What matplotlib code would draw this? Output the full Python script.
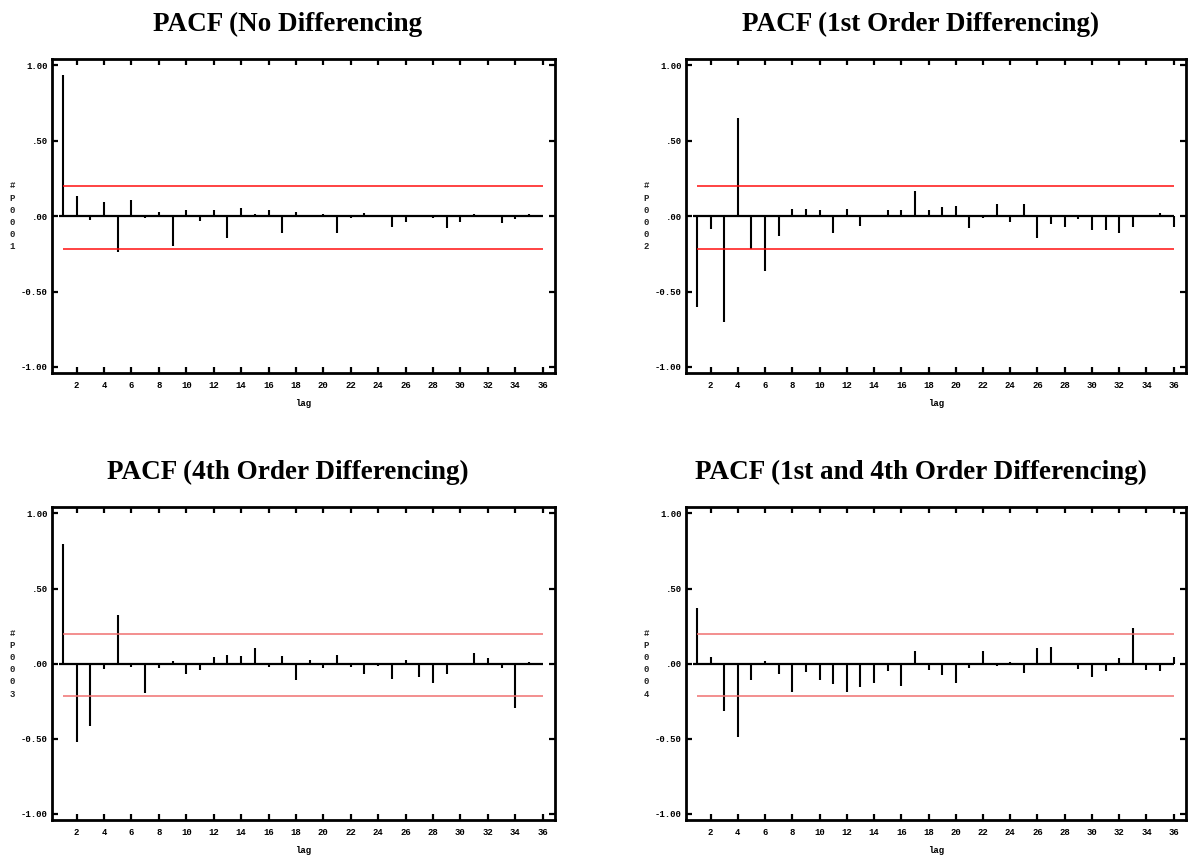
import matplotlib.pyplot as plt

# lag numbers and PACF values
lags = list(range(1, 37))

pacf_no_diff = [0.938, 0.137, -0.026, 0.097, -0.238, 0.110, -0.010, 0.031, -0.199, 0.038,
                -0.029, 0.038, -0.146, 0.057, 0.013, 0.044, -0.113, 0.031, 0.005, 0.013,
                -0.113, -0.013, 0.024, 0.009, -0.073, -0.040, -0.005, -0.011, -0.079, -0.040,
                0.015, 0.009, -0.046, -0.020, 0.015, 0.0]

pacf_diff1 = [-0.603, -0.082, -0.702, 0.653, -0.216, -0.364, -0.128, 0.051, 0.051, 0.044,
              -0.113, 0.051, -0.062, 0.003, 0.044, 0.044, 0.170, 0.044, 0.064, 0.071,
              -0.079, -0.013, 0.084, -0.040, 0.084, -0.146, -0.053, -0.073, -0.018, -0.093,
              -0.093, -0.113, -0.073, 0.0, 0.024, -0.073]

pacf_diff4 = [0.799, -0.518, -0.414, -0.035, 0.323, -0.022, -0.197, -0.029, 0.015, -0.069,
              -0.042, 0.044, 0.058, 0.051, 0.104, -0.022, 0.051, -0.108, 0.022, -0.029,
              0.058, -0.022, -0.069, -0.018, -0.102, 0.022, -0.086, -0.128, -0.069, 0.0,
              0.071, 0.038, -0.029, -0.294, 0.011, 0.0]

pacf_diff1_4 = [0.369, 0.046, -0.312, -0.485, -0.108, 0.015, -0.069, -0.186, -0.058, -0.108,
                -0.135, -0.186, -0.153, -0.126, -0.049, -0.148, 0.084, -0.042, -0.075, -0.128,
                -0.029, 0.084, -0.015, 0.011, -0.062, 0.104, 0.111, 0.0, -0.038, -0.091,
                -0.049, 0.038, 0.235, -0.042, -0.049, 0.044]

titles = ['PACF (No Differencing', 'PACF (1st Order Differencing)',
          'PACF (4th Order Differencing)', 'PACF (1st and 4th Order Differencing)']
series_names = ['#P0001', '#P0002', '#P0003', '#P0004']
conf_upper = 0.20
conf_lower = -0.215
x_ticks = list(range(2, 37, 2))
y_ticks = [-1.0, -0.5, 0.0, 0.5, 1.0]
y_ticklabels = ['-1.00', '-0.50', '.00', '.50', '1.00']

W, H = 1189, 856
fig = plt.figure(figsize=(W / 100, H / 100), dpi=100)

# panel boxes in pixels: left, top, right, bottom
boxes = [(52, 59, 555, 373), (686, 59, 1186, 373),
         (52, 507, 555, 820), (686, 507, 1186, 820)]
red_cols = ['#ff1010', '#ff1010', '#f07070', '#f07070']
data = [pacf_no_diff, pacf_diff1, pacf_diff4, pacf_diff1_4]

mono = 'Liberation Mono'
for i in range(4):
    l, t, r, b = boxes[i]
    ax = fig.add_axes([l / W, 1 - b / H, (r - l) / W, (b - t) / H])
    ax.vlines(lags, 0, data[i], color='black', lw=1.5)
    ax.hlines(0, 0.7, 36, color='black', lw=1.6)
    ax.hlines([conf_upper, conf_lower], 1, 36, color=red_cols[i], lw=1.1)

    ax.set_xlim(0.2, 36.9)
    ax.set_ylim(-1.04, 1.043)
    ax.set_xticks(x_ticks)
    ax.set_xticklabels([str(v) for v in x_ticks], fontfamily=mono,
                       fontweight='bold', fontsize=6.5)
    ax.set_yticks(y_ticks)
    ax.set_yticklabels(y_ticklabels, fontfamily=mono, fontweight='bold', fontsize=6.5)
    ax.tick_params(direction='in', length=4, width=1.6, top=True, right=True,
                   colors='black')
    ax.tick_params(axis='x', pad=6)
    ax.tick_params(axis='y', pad=3)
    for s in ax.spines.values():
        s.set_linewidth(2)

    ax.set_xlabel('lag', fontfamily=mono, fontweight='bold', fontsize=6.5, labelpad=6)
    ax.text(-0.079, 0, '\n'.join(series_names[i]), transform=ax.get_yaxis_transform(),
            ha='center', va='center', fontfamily=mono, fontweight='bold',
            fontsize=6.5, linespacing=1.45, color='#222222')
    ax.set_title(titles[i], x=0.469, pad=20, fontfamily='Liberation Serif',
                 fontweight='bold', fontsize=19.5)

fig.savefig('out.png', dpi=100)
